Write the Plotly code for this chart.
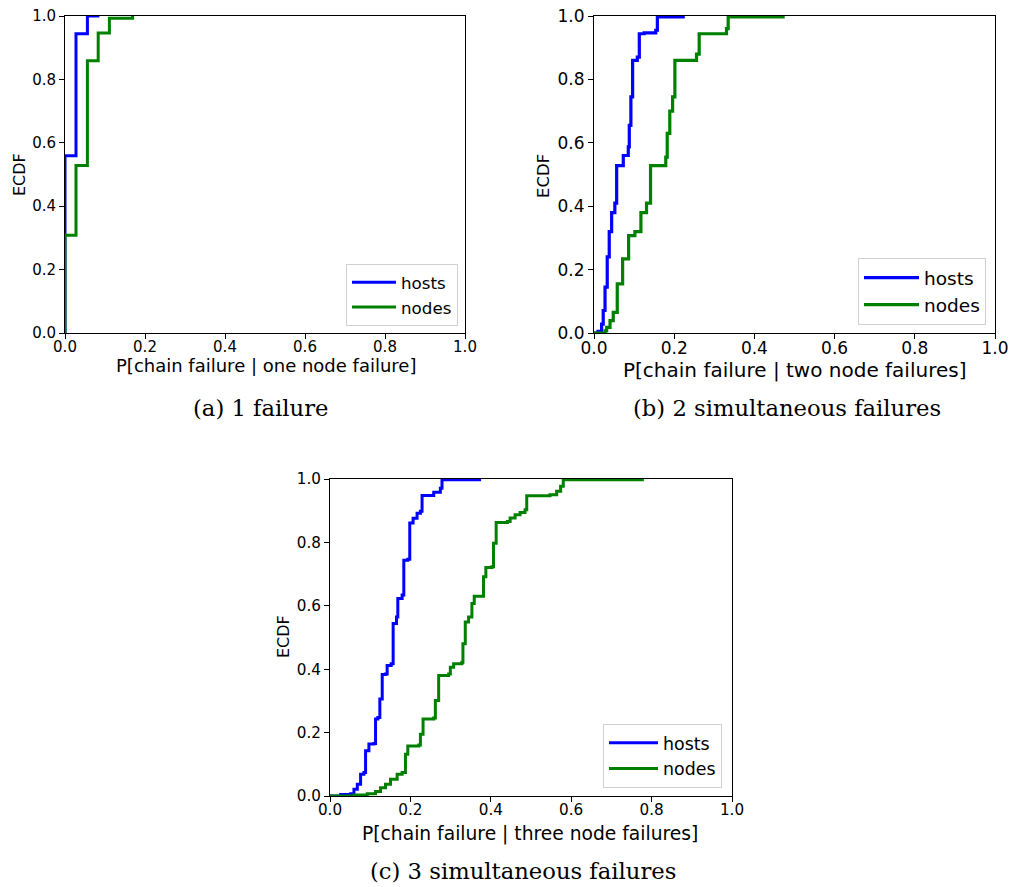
import plotly.graph_objects as go

# ---------------- data (ECDF jump points: x, cumulative fraction) ----------------
a_hosts_x = [0.0, 0.0, 0.0275, 0.056, 0.086]
a_hosts_y = [0.0, 0.559, 0.944, 1.0, 1.0]
a_nodes_x = [0.0, 0.0, 0.0275, 0.056, 0.083, 0.111, 0.169]
a_nodes_y = [0.0, 0.308, 0.528, 0.859, 0.946, 0.993, 1.0]

b_hosts_x = [0.0, 0.010, 0.019, 0.023, 0.0275, 0.033, 0.038, 0.044, 0.052, 0.0565,
             0.073, 0.0855, 0.088, 0.092, 0.0963, 0.108, 0.113, 0.125, 0.154, 0.158, 0.2225]
b_hosts_y = [0.0, 0.005, 0.028, 0.071, 0.145, 0.24, 0.32, 0.38, 0.41, 0.528,
             0.56, 0.587, 0.655, 0.745, 0.86, 0.87, 0.944, 0.947, 0.955, 0.997, 1.0]
b_nodes_x = [0.0, 0.0274, 0.0316, 0.040, 0.048, 0.058, 0.0714, 0.0863, 0.102, 0.117,
             0.131, 0.141, 0.179, 0.1826, 0.189, 0.196, 0.2017, 0.2557, 0.2623, 0.3304,
             0.3346, 0.4716]
b_nodes_y = [0.0, 0.007, 0.018, 0.039, 0.065, 0.155, 0.234, 0.307, 0.32, 0.38,
             0.41, 0.528, 0.555, 0.63, 0.70, 0.745, 0.86, 0.88, 0.944, 0.96,
             0.997, 1.0]

c_hosts_x = [0.0, 0.0265, 0.0513, 0.0596, 0.0679, 0.0761, 0.0844, 0.0885, 0.0968, 0.1092,
             0.1133, 0.1191, 0.124, 0.1299, 0.1381, 0.1422, 0.1522, 0.1571, 0.1654, 0.1687,
             0.1794, 0.1836, 0.1935, 0.1984, 0.2067, 0.2166, 0.2249, 0.229, 0.258, 0.2745,
             0.2786, 0.372]
c_hosts_y = [0.0, 0.005, 0.007, 0.021, 0.037, 0.069, 0.074, 0.143, 0.164, 0.166,
             0.243, 0.248, 0.306, 0.383, 0.385, 0.412, 0.417, 0.544, 0.565, 0.623,
             0.634, 0.744, 0.747, 0.861, 0.876, 0.892, 0.898, 0.948, 0.958, 0.971,
             0.998, 1.0]
c_nodes_x = [0.0, 0.0596, 0.0927, 0.1133, 0.1257, 0.1381, 0.1505, 0.167, 0.1794, 0.1877,
             0.1935, 0.2208, 0.2249, 0.2315, 0.258, 0.2621, 0.2703, 0.2951, 0.2993, 0.3075,
             0.3282, 0.3307, 0.3365, 0.3447, 0.353, 0.3588, 0.3819, 0.3877, 0.4026, 0.4067,
             0.4133, 0.4414, 0.448, 0.4604, 0.4728, 0.4852, 0.4894, 0.5472, 0.5638, 0.5737,
             0.5803, 0.777]
c_nodes_y = [0.0, 0.003, 0.007, 0.014, 0.026, 0.037, 0.053, 0.069, 0.074, 0.132,
             0.158, 0.161, 0.195, 0.243, 0.246, 0.301, 0.380, 0.385, 0.406, 0.417,
             0.422, 0.480, 0.549, 0.565, 0.607, 0.630, 0.692, 0.721, 0.723, 0.797,
             0.863, 0.866, 0.877, 0.887, 0.894, 0.903, 0.947, 0.950, 0.961, 0.977,
             0.998, 1.0]

x_titles = ["P[chain failure | one node failure]",
            "P[chain failure | two node failures]",
            "P[chain failure | three node failures]"]
y_title = "ECDF"
captions = ["(a) 1 failure", "(b) 2 simultaneous failures", "(c) 3 simultaneous failures"]
series_names = ["hosts", "nodes"]
tick_vals = [0.0, 0.2, 0.4, 0.6, 0.8, 1.0]
tick_text = ["0.0", "0.2", "0.4", "0.6", "0.8", "1.0"]

# ---------------- figure ----------------
W, H = 1010, 887
BLUE, GREEN = "#0000ff", "#008000"
FONT = "DejaVu Sans"
SERIF = "DejaVu Serif"

panels = [
    (a_hosts_x, a_hosts_y, a_nodes_x, a_nodes_y),
    (b_hosts_x, b_hosts_y, b_nodes_x, b_nodes_y),
    (c_hosts_x, c_hosts_y, c_nodes_x, c_nodes_y),
]
# per-panel styling (pixels)
boxes = [(65, 465, 16, 333), (594, 995, 16, 333), (330, 732, 479, 796)]  # l, r, t, b
tick_size = [15, 17, 15.2]
xtitle_size = [18, 20, 18.7]
ytitle_size = [16, 16.5, 16]
xtitle_pos = [(266, 365), (794, 370), (530, 834)]
ytitle_pos = [(20, 175), (543, 176), (283, 637)]
legend_pos = [(458, 326), (986, 325), (722, 788)]  # right, bottom
legend_size = [16.7, 18.5, 17.4]
legend_itemw = [44, 55, 49]
line_w = [3, 3.2, 3]
caption_pos = [(260, 408), (787, 408), (523, 871)]
caption_size = 22.7

fig = go.Figure()
layout = dict(width=W, height=H, margin=dict(l=0, r=0, t=0, b=0, autoexpand=False),
              paper_bgcolor="white", plot_bgcolor="white",
              font=dict(family=FONT, size=15, color="black"))
annotations = []

for i, (hx, hy, nx, ny) in enumerate(panels):
    sfx = "" if i == 0 else str(i + 1)
    leg = "legend" if i == 0 else "legend" + str(i + 1)
    for name, xs, ys, col in ((series_names[0], hx, hy, BLUE), (series_names[1], nx, ny, GREEN)):
        fig.add_trace(go.Scatter(x=xs, y=ys, mode="lines", name=name,
                                 line=dict(color=col, width=line_w[i], shape="hv"),
                                 xaxis="x" + sfx, yaxis="y" + sfx, legend=leg,
                                 showlegend=True))
    l, r, t, b = boxes[i]
    axcommon = dict(range=[0, 1], tickvals=tick_vals, ticktext=tick_text,
                    ticks="outside", ticklen=5, tickwidth=1, tickcolor="black",
                    showline=True, mirror=True, linecolor="black", linewidth=1,
                    showgrid=False, zeroline=False, automargin=False,
                    tickfont=dict(family=FONT, size=tick_size[i], color="black"))
    layout["xaxis" + sfx] = dict(axcommon, domain=[l / W, r / W], anchor="y" + sfx,
                                 ticklabelstandoff=-5)
    layout["yaxis" + sfx] = dict(axcommon, domain=[1 - b / H, 1 - t / H], anchor="x" + sfx)
    lx, ly = legend_pos[i]
    layout[leg] = dict(x=lx / W, y=1 - ly / H, xanchor="right", yanchor="bottom",
                       bgcolor="white", bordercolor="#d0d0d0", borderwidth=1,
                       font=dict(family=FONT, size=legend_size[i], color="black"),
                       tracegroupgap=0, itemwidth=legend_itemw[i])
    xx, xy = xtitle_pos[i]
    annotations.append(dict(text=x_titles[i], x=xx / W, y=1 - xy / H, xref="paper", yref="paper",
                            xanchor="center", yanchor="middle", showarrow=False,
                            font=dict(family=FONT, size=xtitle_size[i], color="black")))
    yx, yy = ytitle_pos[i]
    annotations.append(dict(text=y_title, x=yx / W, y=1 - yy / H, xref="paper", yref="paper",
                            xanchor="center", yanchor="middle", showarrow=False, textangle=-90,
                            font=dict(family=FONT, size=ytitle_size[i], color="black")))

for (cx, cy), txt in zip(caption_pos, captions):
    annotations.append(dict(text=txt, x=cx / W, y=1 - cy / H, xref="paper", yref="paper",
                            xanchor="center", yanchor="middle", showarrow=False,
                            font=dict(family=SERIF, size=caption_size, color="black")))
layout["annotations"] = annotations

fig.update_layout(**layout)
fig.write_html("out.html", config={"displayModeBar": False},
               post_script="document.body.style.margin='0';document.body.style.overflow='hidden';")
